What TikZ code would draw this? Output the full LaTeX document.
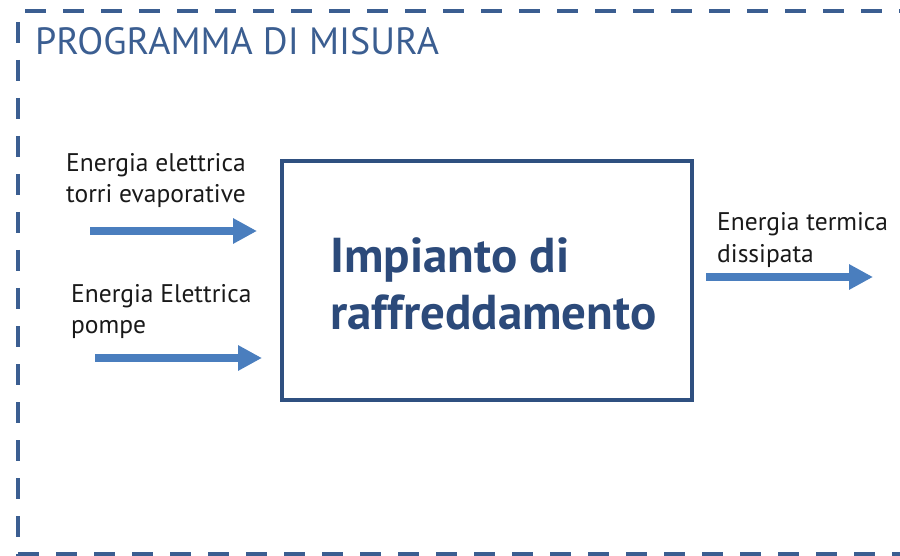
\documentclass[tikz,border=0pt]{standalone}
\usepackage{fontspec}
\setmainfont{PT Sans}
\usetikzlibrary{arrows.meta,positioning}
\definecolor{framecol}{RGB}{59,94,145}
\definecolor{boxcol}{RGB}{47,80,128}
\definecolor{namecol}{RGB}{44,74,122}
\definecolor{arrowcol}{RGB}{74,126,190}
\tikzstyle{frame}=[draw=framecol,line width=4pt,dash pattern=on 21pt off 17pt]
\tikzstyle{plant}=[draw=boxcol,line width=4pt,minimum width=410pt,minimum height=239pt,inner sep=0pt]
\tikzstyle{flow}=[arrowcol,line width=8pt,-{Triangle[length=24pt,width=24pt]}]
\tikzstyle{flowtext}=[align=left,anchor=base west,inner sep=0pt,text=black!90,font=\fontsize{25.5}{31.5}\selectfont]

\begin{document}
\begin{tikzpicture}[x=1pt,y=-1pt]
\useasboundingbox (0,0) rectangle (900,556);
% dashed border of the measuring programme
\draw[frame] (18,22) -- (18,556);
\draw[frame] (25,11) -- (900,11);
\draw[frame] (18,553.5) -- (900,553.5);
\draw[frame] (901.5,22) -- (901.5,556);
\node[anchor=base west,inner sep=0pt,text=framecol,font=\fontsize{38}{42}\selectfont] (title) at (35,55) {PROGRAMMA DI MISURA};

% cooling plant
\node[plant] (plant) at (487,280.5) {};
\node[anchor=base west,align=left,inner sep=0pt,text=namecol,font=\fontsize{49}{58}\bfseries\selectfont] (plantname) at (330,330) {Impianto di\\raffreddamento};

% incoming and outgoing energy (base = last line)
\node[flowtext] (in1txt) at (66,203) {Energia elettrica\\torri evaporative};
\node[flowtext] (in2txt) at (71,334) {Energia Elettrica\\pompe};
\node[flowtext] (outtxt) at (717,262) {Energia termica\\dissipata};

\coordinate (in1s) at (90,231);
\coordinate (in1e) at (257,231);
\coordinate (in2s) at (95,358);
\coordinate (in2e) at (262,358);
\coordinate (outs) at (706,277);
\coordinate (oute) at (873,277);
\draw[flow] (in1s) -- (in1e);
\draw[flow] (in2s) -- (in2e);
\draw[flow] (outs) -- (oute);
\end{tikzpicture}
\end{document}
